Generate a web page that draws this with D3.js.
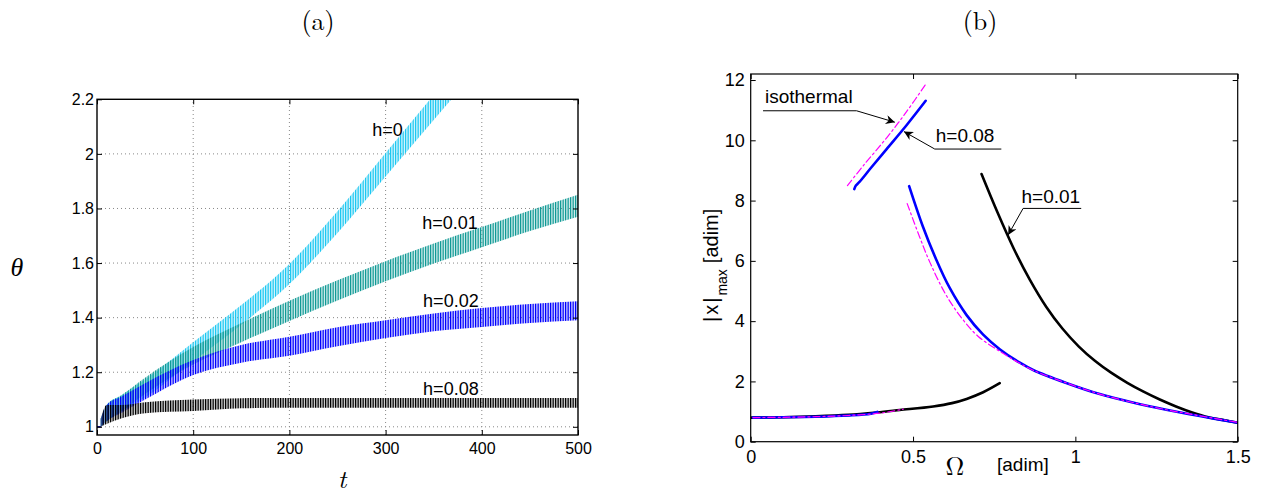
<!DOCTYPE html>
<html>
<head>
<meta charset="utf-8">
<script src="https://cdn.jsdelivr.net/npm/d3@7"></script>
<style>
  body { margin: 0; background: #fff; }
  svg { display: block; }
  .tick text { font-family: "Liberation Sans", Arial, Helvetica, sans-serif; fill: #000; }
  .tick line { stroke: #000; }
</style>
</head>
<body>
<svg id="chart" width="1262" height="495"></svg>
<script>
// ---------- panel (a): theta(t), oscillating bands (upper / lower envelope) ----------
const tTicks = [0, 100, 200, 300, 400, 500];
const thetaTicks = [1, 1.2, 1.4, 1.6, 1.8, 2, 2.2];

const tStart = [0, 4];
const thetaStart = [1, 1];

const tH0 = [4, 10, 25, 50, 100, 150, 200, 250, 300, 350, 400];
const h0Upper = [1.03, 1.08, 1.115, 1.173, 1.31, 1.446, 1.597, 1.79, 2.003, 2.216, 2.43];
const h0Lower = [1.0, 1.02, 1.055, 1.107, 1.24, 1.374, 1.523, 1.71, 1.917, 2.124, 2.33];

const tBand = [4, 10, 25, 50, 100, 150, 200, 250, 300, 350, 400, 450, 500];
const h001Upper = [1.03, 1.08, 1.115, 1.18, 1.292, 1.38, 1.462, 1.537, 1.607, 1.672, 1.732, 1.793, 1.85];
const h001Lower = [1.0, 1.02, 1.055, 1.12, 1.228, 1.31, 1.388, 1.463, 1.533, 1.598, 1.658, 1.717, 1.77];
const h002Upper = [1.03, 1.08, 1.11, 1.16, 1.245, 1.30, 1.33, 1.365, 1.39, 1.415, 1.435, 1.45, 1.46];
const h002Lower = [1.0, 1.02, 1.05, 1.10, 1.19, 1.235, 1.26, 1.295, 1.325, 1.35, 1.366, 1.38, 1.39];
const h008Upper = [1.03, 1.08, 1.08, 1.09, 1.10, 1.105, 1.106, 1.106, 1.106, 1.106, 1.106, 1.106, 1.106];
const h008Lower = [1.0, 1.01, 1.03, 1.05, 1.058, 1.068, 1.07, 1.07, 1.07, 1.07, 1.07, 1.07, 1.07];

const bandNames = ["h=0", "h=0.01", "h=0.02", "h=0.08"];
const bandColors = ["#1cc8f2", "#119a96", "#0000ff", "#000000"];
const labelT = [286, 338, 339, 339];
const labelTheta = [2.065, 1.725, 1.44, 1.117];

// ---------- panel (b): |x|max vs Omega ----------
const omTicks = [0, 0.5, 1, 1.5];
const xmaxTicks = [0, 2, 4, 6, 8, 10, 12];

const blackLowOm = [0, 0.1, 0.2, 0.3, 0.388, 0.459, 0.562, 0.62, 0.665, 0.716, 0.767];
const blackLowX = [0.80, 0.81, 0.84, 0.89, 0.97, 1.05, 1.17, 1.28, 1.42, 1.64, 1.94];
const blackDownOm = [0.711, 0.76, 0.81, 0.86, 0.91, 0.96, 1.01, 1.06, 1.11, 1.16, 1.21, 1.26, 1.31, 1.36, 1.41, 1.46, 1.5];
const blackDownX = [8.88, 7.61, 6.41, 5.37, 4.48, 3.755, 3.165, 2.685, 2.29, 1.955, 1.66, 1.40, 1.17, 0.97, 0.81, 0.71, 0.63];

const blueLowOm = [0.007, 0.1, 0.2, 0.3, 0.37, 0.39];
const blueLowX = [0.80, 0.81, 0.83, 0.87, 0.93, 0.99];
const blueUpOm = [0.319, 0.324, 0.335, 0.37, 0.418, 0.48, 0.539];
const blueUpX = [8.38, 8.5, 8.62, 9.08, 9.7, 10.5, 11.31];
const blueDownOm = [0.488, 0.53, 0.572, 0.613, 0.665, 0.716, 0.767, 0.829, 0.87, 0.972, 1.075, 1.177, 1.28, 1.383, 1.5];
const blueDownX = [8.48, 7.15, 6.03, 5.1, 4.2, 3.55, 3.07, 2.62, 2.38, 1.95, 1.58, 1.3, 1.06, 0.85, 0.63];

const isoLowOm = [0.007, 0.1, 0.2, 0.3, 0.4, 0.47];
const isoLowX = [0.80, 0.81, 0.83, 0.87, 0.95, 1.08];
const isoUpOm = [0.298, 0.35, 0.42, 0.48, 0.539];
const isoUpX = [8.5, 9.2, 10.1, 10.95, 11.86];
const isoDownOm = [0.482, 0.52, 0.552, 0.6, 0.65, 0.7, 0.77, 0.829, 0.87, 0.972, 1.075, 1.177, 1.28, 1.383, 1.5];
const isoDownX = [7.9, 6.8, 5.95, 4.9, 4.1, 3.5, 2.98, 2.6, 2.37, 1.95, 1.58, 1.3, 1.06, 0.86, 0.64];

const svg = d3.select("#chart");
const sans = '"Liberation Sans", Arial, Helvetica, sans-serif';
const serif = '"Latin Modern Roman", "CMU Serif", "Liberation Serif", "Times New Roman", serif';

const zip = (xs, ys) => xs.map((x, i) => ({ x: x, y: ys[i] }));

// ===================== panel (a) =====================
const xA = d3.scaleLinear().domain([0, 500]).range([97, 578]);
const yA = d3.scaleLinear().domain([0.97, 2.2]).range([435, 99.3]);

const defs = svg.append("defs");
defs.append("clipPath").attr("id", "clipA")
    .append("rect")
    .attr("x", xA(0)).attr("y", yA(2.2))
    .attr("width", xA(500) - xA(0)).attr("height", yA(0.97) - yA(2.2));

// stripe patterns give the dense oscillation look
bandColors.forEach((c, i) => {
    const p = defs.append("pattern")
        .attr("id", "osc" + i)
        .attr("patternUnits", "userSpaceOnUse")
        .attr("width", 5).attr("height", 10);
    p.append("rect").attr("x", 0).attr("y", 0).attr("width", 1.3).attr("height", 10).attr("fill", c);
    p.append("rect").attr("x", 2.5).attr("y", 0).attr("width", 1.3).attr("height", 10).attr("fill", c);
    p.append("rect").attr("x", 1.3).attr("y", 0).attr("width", 1.2).attr("height", 10).attr("fill", c).attr("opacity", 0.2);
    p.append("rect").attr("x", 3.8).attr("y", 0).attr("width", 1.2).attr("height", 10).attr("fill", c).attr("opacity", 0.2);
});

const gA = svg.append("g");

// grid
gA.append("g").selectAll("line")
    .data(tTicks.slice(1, -1))
    .enter().append("line")
    .attr("x1", d => xA(d)).attr("x2", d => xA(d))
    .attr("y1", yA(0.97)).attr("y2", yA(2.2))
    .attr("stroke", "#888").attr("stroke-width", 1).attr("stroke-dasharray", "1,3");
gA.append("g").selectAll("line")
    .data(thetaTicks.slice(0, -1))
    .enter().append("line")
    .attr("x1", xA(0)).attr("x2", xA(500))
    .attr("y1", d => yA(d)).attr("y2", d => yA(d))
    .attr("stroke", "#888").attr("stroke-width", 1).attr("stroke-dasharray", "1,3");

const bands = [
    { t: tH0, up: h0Upper, lo: h0Lower },
    { t: tBand, up: h001Upper, lo: h001Lower },
    { t: tBand, up: h002Upper, lo: h002Lower },
    { t: tBand, up: h008Upper, lo: h008Lower }
];

const area = d3.area()
    .x(d => xA(d.t))
    .y0(d => yA(d.lo))
    .y1(d => yA(d.up))
    .curve(d3.curveMonotoneX);

const plotA = gA.append("g").attr("clip-path", "url(#clipA)");
bands.forEach((b, i) => {
    const rows = b.t.map((t, k) => ({ t: t, up: b.up[k], lo: b.lo[k] }));
    plotA.append("path")
        .datum(rows)
        .attr("d", area)
        .attr("fill", `url(#osc${i})`);
});

plotA.append("path")
    .datum(zip(tStart, thetaStart))
    .attr("d", d3.line().x(d => xA(d.x)).y(d => yA(d.y)))
    .attr("fill", "none").attr("stroke", "#000080").attr("stroke-width", 1.5);

// band labels
gA.append("g").selectAll("text")
    .data(bandNames)
    .enter().append("text")
    .attr("x", (d, i) => xA(labelT[i]))
    .attr("y", (d, i) => yA(labelTheta[i]))
    .style("font-family", sans).style("font-size", "18px")
    .text(d => d);

// axes
const fmt = d3.format("~g");
gA.append("g").attr("transform", `translate(0,${yA(0.97)})`)
    .call(d3.axisBottom(xA).tickValues(tTicks).tickSize(-5).tickPadding(8).tickFormat(fmt))
    .call(g => g.selectAll("text").style("font-size", "16px"));
gA.append("g").attr("transform", `translate(0,${yA(2.2)})`)
    .call(d3.axisTop(xA).tickValues(tTicks).tickSize(-5).tickFormat(""));
gA.append("g").attr("transform", `translate(${xA(0)},0)`)
    .call(d3.axisLeft(yA).tickValues(thetaTicks).tickSize(-5).tickPadding(3).tickFormat(fmt))
    .call(g => g.selectAll("text").style("font-size", "16px"));
gA.append("g").attr("transform", `translate(${xA(500)},0)`)
    .call(d3.axisRight(yA).tickValues(thetaTicks).tickSize(-5).tickFormat(""));
gA.selectAll(".domain").remove();

gA.append("rect")
    .attr("x", xA(0)).attr("y", yA(2.2))
    .attr("width", xA(500) - xA(0)).attr("height", yA(0.97) - yA(2.2))
    .attr("fill", "none").attr("stroke", "#000").attr("stroke-width", 1.4);

gA.append("text").attr("x", 318).attr("y", 30)
    .attr("text-anchor", "middle")
    .style("font-family", serif).style("font-size", "26px")
    .text("(a)");
gA.append("text").attr("x", 17).attr("y", 276)
    .attr("text-anchor", "middle")
    .style("font-family", serif).style("font-style", "italic").style("font-size", "26px")
    .text("θ");
gA.append("text").attr("x", 342).attr("y", 488)
    .attr("text-anchor", "middle")
    .style("font-family", serif).style("font-style", "italic").style("font-size", "26px")
    .text("t");

// ===================== panel (b) =====================
const xB = d3.scaleLinear().domain([0, 1.5]).range([750.7, 1237.7]);
const yB = d3.scaleLinear().domain([0, 12.2]).range([441.7, 74]);

defs.append("clipPath").attr("id", "clipB")
    .append("rect")
    .attr("x", xB(0)).attr("y", yB(12.2))
    .attr("width", xB(1.5) - xB(0)).attr("height", yB(0) - yB(12.2));

const gB = svg.append("g");
const plotB = gB.append("g").attr("clip-path", "url(#clipB)");
const lineB = d3.line().x(d => xB(d.x)).y(d => yB(d.y)).curve(d3.curveCatmullRom);

const curves = [
    { om: blackLowOm, v: blackLowX, color: "#000", w: 2.6, dash: null },
    { om: blackDownOm, v: blackDownX, color: "#000", w: 2.6, dash: null },
    { om: blueLowOm, v: blueLowX, color: "#0000ff", w: 2.6, dash: null },
    { om: blueUpOm, v: blueUpX, color: "#0000ff", w: 2.6, dash: null },
    { om: blueDownOm, v: blueDownX, color: "#0000ff", w: 2.6, dash: null },
    { om: isoLowOm, v: isoLowX, color: "#ff00ff", w: 1.2, dash: "7,3,2,3" },
    { om: isoUpOm, v: isoUpX, color: "#ff00ff", w: 1.2, dash: "7,3,2,3" },
    { om: isoDownOm, v: isoDownX, color: "#ff00ff", w: 1.2, dash: "7,3,2,3" }
];
curves.forEach(c => {
    plotB.append("path")
        .datum(zip(c.om, c.v))
        .attr("d", lineB)
        .attr("fill", "none")
        .attr("stroke", c.color)
        .attr("stroke-width", c.w)
        .attr("stroke-linecap", "round")
        .attr("stroke-dasharray", c.dash);
});

gB.append("g").attr("transform", `translate(0,${yB(0)})`)
    .call(d3.axisBottom(xB).tickValues(omTicks).tickSize(-5).tickPadding(9).tickFormat(fmt))
    .call(g => g.selectAll("text").style("font-size", "18px"));
gB.append("g").attr("transform", `translate(0,${yB(12.2)})`)
    .call(d3.axisTop(xB).tickValues(omTicks).tickSize(-5).tickFormat(""));
gB.append("g").attr("transform", `translate(${xB(0)},0)`)
    .call(d3.axisLeft(yB).tickValues(xmaxTicks).tickSize(-5).tickPadding(6).tickFormat(fmt))
    .call(g => g.selectAll("text").style("font-size", "18px"));
gB.append("g").attr("transform", `translate(${xB(1.5)},0)`)
    .call(d3.axisRight(yB).tickValues(xmaxTicks).tickSize(-5).tickFormat(""));
gB.selectAll(".domain").remove();

gB.append("rect")
    .attr("x", xB(0)).attr("y", yB(12.2))
    .attr("width", xB(1.5) - xB(0)).attr("height", yB(0) - yB(12.2))
    .attr("fill", "none").attr("stroke", "#000").attr("stroke-width", 1.2);

// annotations with arrows
defs.append("marker")
    .attr("id", "arrow")
    .attr("viewBox", "0 0 10 10")
    .attr("refX", 10).attr("refY", 5)
    .attr("markerWidth", 12).attr("markerHeight", 9)
    .attr("markerUnits", "userSpaceOnUse")
    .attr("orient", "auto")
    .append("path").attr("d", "M0,0 L10,5 L0,10 L3,5 Z").attr("fill", "#000");

const notes = [
    { text: "isothermal", tx: 0.044, ty: 11.25, pts: [[0.038, 10.98], [0.326, 10.98], [0.444, 10.6]] },
    { text: "h=0.08", tx: 0.570, ty: 9.95, pts: [[0.772, 9.71], [0.567, 9.71], [0.472, 10.29]] },
    { text: "h=0.01", tx: 0.834, ty: 7.91, pts: [[1.018, 7.74], [0.839, 7.74], [0.793, 6.86]] }
];
notes.forEach(n => {
    gB.append("text")
        .attr("x", xB(n.tx)).attr("y", yB(n.ty))
        .style("font-family", sans).style("font-size", "19px")
        .text(n.text);
    gB.append("path")
        .datum(n.pts)
        .attr("d", d3.line().x(p => xB(p[0])).y(p => yB(p[1])))
        .attr("fill", "none").attr("stroke", "#000").attr("stroke-width", 1)
        .attr("marker-end", "url(#arrow)");
});

gB.append("text").attr("x", 980).attr("y", 30)
    .attr("text-anchor", "middle")
    .style("font-family", serif).style("font-size", "26px")
    .text("(b)");

gB.append("text").attr("x", 955).attr("y", 475)
    .attr("text-anchor", "middle")
    .style("font-family", serif).style("font-size", "26px")
    .text("Ω");
gB.append("text").attr("x", 997).attr("y", 471)
    .style("font-family", sans).style("font-size", "19px")
    .text("[adim]");

const yLab = gB.append("text")
    .attr("transform", "translate(718,322) rotate(-90)")
    .style("font-family", sans).style("font-size", "20px");
yLab.append("tspan").style("letter-spacing", "2px").text("|x|");
yLab.append("tspan").attr("dy", 9).style("font-size", "14px").text("max");
yLab.append("tspan").attr("dy", -9).attr("dx", 6).text("[adim]");
</script>
</body>
</html>
